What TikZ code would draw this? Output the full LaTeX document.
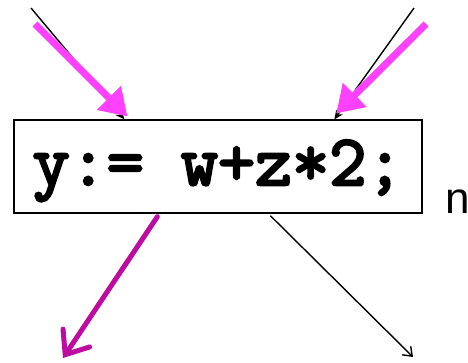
\documentclass[tikz,border=0pt]{standalone}
\usepackage{fontspec}
\setmainfont{Liberation Sans}
\newfontfamily\codefont[FakeBold=3.5]{Latin Modern Mono}
\usepackage{tikz}
\usetikzlibrary{arrows.meta,calc,positioning}
\definecolor{inMagenta}{RGB}{255,64,255}
\definecolor{outMagenta}{RGB}{190,12,160}

\begin{document}
\begin{tikzpicture}[x=1pt,y=1pt]
        \tikzset{
            stmt/.style={
                draw,
                line width=1.3pt,
                minimum width=408pt,
                minimum height=93pt,
                text height=49pt,
                text depth=12pt,
                inner sep=0pt,
                font=\codefont\bfseries\fontsize{72}{72}\selectfont
            },
            edge/.style={line width=1.4pt},
            flow/.style={inMagenta,line width=7pt,-{Triangle[length=26pt,width=32pt]}},
            outflow/.style={outMagenta,line width=5pt,line cap=round,
                -{Straight Barb[length=20pt,width=32pt,line cap=round,line width=5pt]}}
        }
        \useasboundingbox (0,0) rectangle (468,-362);

        % Statement
        \node[stmt] (S) at (218,-166.5) {y:= w+z*2;};
        \node[anchor=base west,inner sep=0pt,font=\fontsize{44}{44}\selectfont] (N) at (445,-213) {n};

        % Incoming edges
        \coordinate (inL) at (31,-8);
        \coordinate (inR) at (414,-8);
        \draw[edge,-{Stealth[length=9pt,width=8pt]}] (inL) -- ($(S.north west)+(111,0)$);
        \draw[edge,-{Stealth[length=9pt,width=8pt]}] (inR) -- ($(S.north west)+(321,0)$);

        %% Incoming facts
        \coordinate (factL) at (35,-24);
        \coordinate (factR) at (426,-24);
        \draw[flow,black!20,xshift=2pt,yshift=-2pt] (factL) -- ($(S.north west)+(114,3)$);
        \draw[flow,black!20,xshift=2pt,yshift=-2pt] (factR) -- ($(S.north west)+(323,6)$);
        \draw[flow] (factL) -- ($(S.north west)+(114,3)$);
        \draw[flow] (factR) -- ($(S.north west)+(323,6)$);

        % Outgoing edges
        \coordinate (outL) at (63,-358);
        \coordinate (outR) at (413,-357);
        \draw[outflow] ($(S.south west)+(144,-3)$) -- (outL);
        \draw[edge,-{Straight Barb[length=8pt,width=12pt]}] ($(S.south west)+(257,-2)$) -- (outR);
\end{tikzpicture}
\end{document}
